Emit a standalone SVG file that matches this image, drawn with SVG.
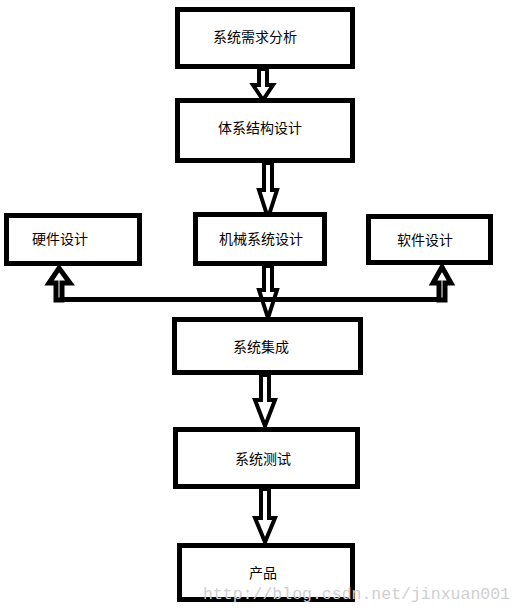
<svg xmlns="http://www.w3.org/2000/svg" width="524" height="614" viewBox="0 0 524 614">
<style>
.box{fill:#fff;stroke:#000;stroke-width:5}
.lbl{font-family:"Noto Sans CJK SC","Microsoft YaHei",sans-serif;font-size:14px;fill:#000;text-anchor:middle}
.arr{fill:#fff;stroke:#000;stroke-width:4;stroke-linejoin:miter}
.arr2{fill:#fff;stroke:#000;stroke-width:5;stroke-linejoin:miter}
.wm{font-family:"Liberation Mono",monospace;font-size:16.5px;fill:#cfcfcf}
</style>
<rect width="524" height="614" fill="#fff"/>
<g id="connectors">
<polygon class="arr" points="259,69 267,69 267,85 273,85 263,100 253,85 259,85"/>
<polygon class="arr" points="264,163 272,163 272,190 277,190 268,218 259,190 264,190"/>
<polygon class="arr" points="264,266 272,266 272,290 277,290 268,318 259,290 264,290"/>
<line x1="57" y1="299.5" x2="444" y2="299.5" stroke="#000" stroke-width="5"/>
<polygon class="arr" points="261,375 269,375 269,400 275,400 265,426 255,400 261,400"/>
<polygon class="arr" points="261,489 269,489 269,518 275,518 265,542 255,518 261,518"/>
<polygon class="arr2" points="56,300 62,300 62,283 70,283 59,268 49,283 56,283"/>
<polygon class="arr2" points="439,300 445,300 445,283 451,283 442,267 433,283 439,283"/>
</g>
<g id="n1"><rect class="box" x="177.5" y="9.5" width="175" height="57"/><text class="lbl" x="255" y="42">系统需求分析</text></g>
<g id="n2"><rect class="box" x="177.5" y="100.5" width="175" height="60"/><text class="lbl" x="260" y="133">体系结构设计</text></g>
<g id="n3"><rect class="box" x="6.5" y="215.5" width="133" height="48"/><text class="lbl" x="60" y="244">硬件设计</text></g>
<g id="n4"><rect class="box" x="195.5" y="214.5" width="129" height="49"/><text class="lbl" x="261" y="244">机械系统设计</text></g>
<g id="n5"><rect class="box" x="368.5" y="216.5" width="122" height="46"/><text class="lbl" x="425" y="245">软件设计</text></g>
<g id="n6"><rect class="box" x="174.5" y="319.5" width="186" height="53"/><text class="lbl" x="261" y="352">系统集成</text></g>
<g id="n7"><rect class="box" x="175.5" y="429.5" width="182" height="57"/><text class="lbl" x="263" y="464">系统测试</text></g>
<g id="n8"><rect class="box" x="179.5" y="545.5" width="173" height="54"/><text class="lbl" x="263" y="578">产品</text></g>
<text class="wm" x="203" y="599" textLength="307" lengthAdjust="spacingAndGlyphs">http://blog.csdn.net/jinxuan001</text>
</svg>
